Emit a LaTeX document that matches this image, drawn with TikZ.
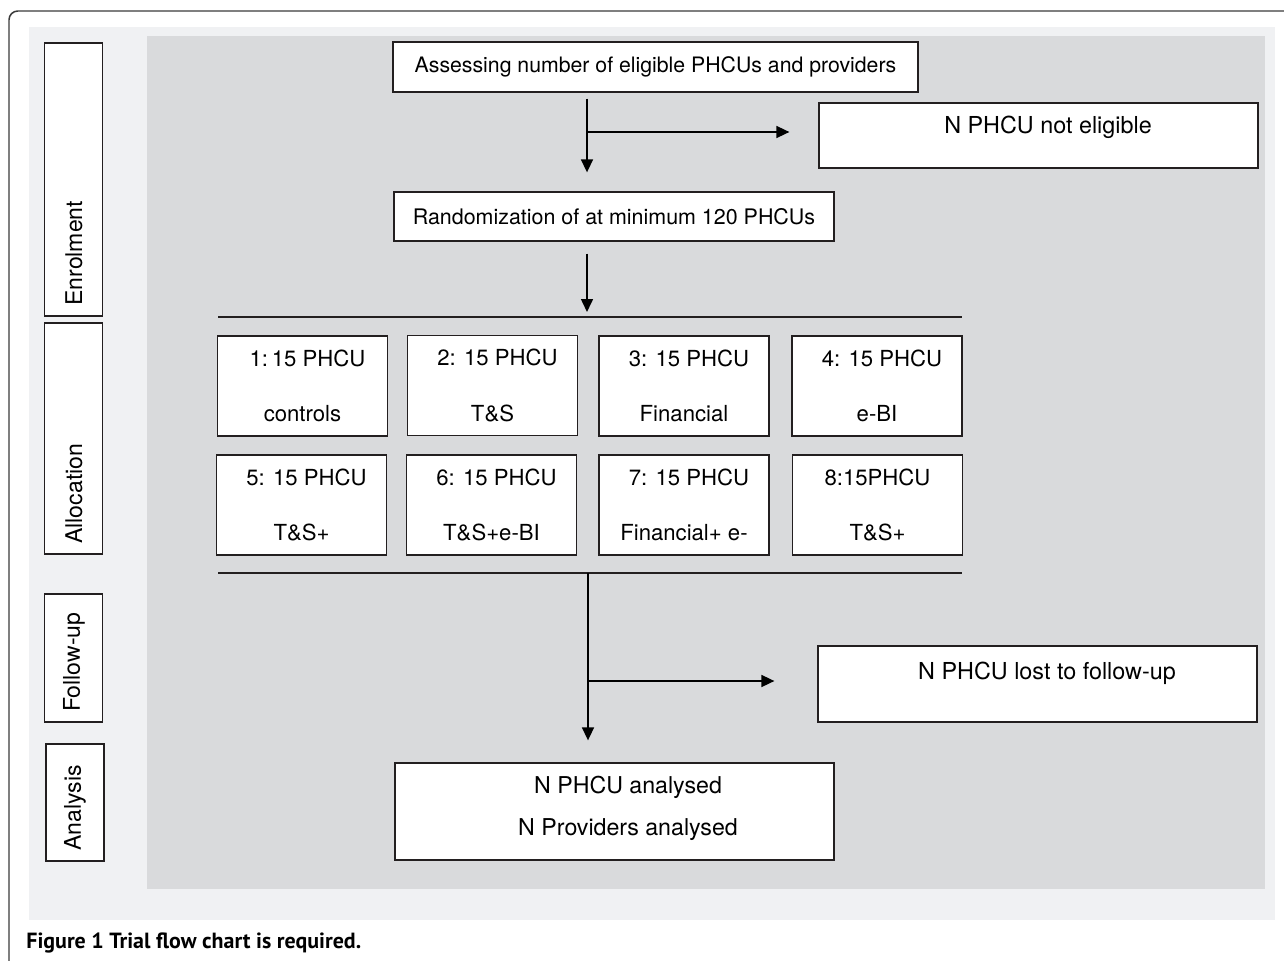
\documentclass[tikz,border=0pt]{standalone}
\usepackage{fontspec}
\setmainfont{TeX Gyre Heros}
\newfontfamily\captionfont{PT Sans}
\definecolor{panelgray}{HTML}{F0F1F3}
\definecolor{flowgray}{HTML}{D9DADC}
\definecolor{inkline}{HTML}{231F20}
\definecolor{framegray}{HTML}{3A3A3A}
\usetikzlibrary{arrows.meta}

\begin{document}
\begin{tikzpicture}[x=0.02cm, y=-0.02cm,
		box/.style={draw=inkline, fill=white, line width=0.75pt, inner sep=0pt, font=\fontsize{12.1}{14.4}\selectfont},
		armbox/.style={box, minimum width=3.4cm, minimum height=2cm, align=center, font=\fontsize{12.6}{31.7}\selectfont},
		sidebox/.style={box, minimum width=1.16cm},
		sidetext/.style={rotate=90, anchor=west, inner sep=0pt, font=\fontsize{13.1}{15}\selectfont},
		txt/.style={inner sep=0pt, align=center, font=\fontsize{13.3}{16}\selectfont},
		arrow/.style={-{Triangle[length=7.4pt, width=6.8pt]}, line width=1pt, draw=black},
		bar/.style={line width=0.75pt, draw=inkline}
	]
	\useasboundingbox (0,0) rectangle (1284,960);

	% Backgrounds and frame
	\fill[panelgray] (29,27) rectangle (1275,920);
	\fill[flowgray] (147,36) rectangle (1265,889);
	\draw[framegray, line width=0.85pt, rounded corners=5pt] (1300,11) -- (9,11) -- (9,980);

	% Stage labels
	\node[sidebox, minimum height=5.46cm] (enrol) at (73.5,179.5) {};
	\node[sidebox, minimum height=4.62cm] (alloc) at (73.5,438.5) {};
	\node[sidebox, minimum height=2.56cm] (follow) at (73.5,658) {};
	\node[sidebox, minimum height=2.34cm] (analysis) at (75,802.5) {};
	\node[sidetext] (enroltext) at (74,306) {Enrolment};
	\node[sidetext] (alloctext) at (74,544) {Allocation};
	\node[sidetext] (followtext) at (74,712) {Follow-up};
	\node[sidetext] (analysistext) at (75,851) {Analysis};

	% Enrolment
	\node[box, minimum width=10.5cm, minimum height=1cm] (assess) at (655.5,67) {Assessing number of eligible PHCUs and providers};
	\node[box, minimum width=8.78cm, minimum height=1.3cm] (noelig) at (1038.5,135.5) {};
	\node[txt] (noeligtext) at (1048,127) {N PHCU not eligible};
	\node[box, minimum width=8.8cm, minimum height=0.98cm, font=\fontsize{12.2}{14.4}\selectfont] (random) at (614,216.5) {Randomization of at minimum 120 PHCUs};

	% Allocation
	\node[armbox] (arm1) at (302.5,386) {\hspace*{0.45em}1:\,15 PHCU\\controls};
	\node[armbox] (arm2) at (492.5,385.5) {\hspace*{0.45em}2: 15 PHCU\\T\&S};
	\node[armbox] (arm3) at (684,386) {\hspace*{0.45em}3: 15 PHCU\\Financial};
	\node[armbox] (arm4) at (877,386) {\hspace*{0.45em}4: 15 PHCU\\e-BI};
	\node[armbox] (arm5) at (301.5,505) {\hspace*{0.45em}5: 15 PHCU\\T\&S+};
	\node[armbox] (arm6) at (491.5,505) {\hspace*{0.45em}6: 15 PHCU\\T\&S+e-BI};
	\node[armbox] (arm7) at (684,505) {\hspace*{0.45em}7: 15 PHCU\\Financial+ e-};
	\node[armbox] (arm8) at (877.5,505) {8:15PHCU\\T\&S+};

	% Follow-up and analysis
	\node[box, minimum width=8.78cm, minimum height=1.52cm] (lost) at (1037.5,684) {};
	\node[txt] (losttext) at (1047,673) {N PHCU lost to follow-up};
	\node[box, minimum width=8.78cm, minimum height=1.94cm] (analysed) at (614.5,811.5) {};
	\node[txt, font=\fontsize{13.2}{23.8}\selectfont] (analysedtext) at (628,808) {N PHCU analysed\\N Providers analysed};

	\coordinate (split1) at (587,132);
	\coordinate (bartopL) at (218,317);
	\coordinate (bartopR) at (962,317);
	\coordinate (barbotL) at (218,573);
	\coordinate (barbotR) at (962,573);
	\coordinate (split2) at (588,681);

	\draw[bar] (bartopL) -- (bartopR);
	\draw[bar] (barbotL) -- (barbotR);
	\draw[arrow, shorten <=0.12cm, shorten >=0.38cm] (assess.south -| split1) -- (random.north -| split1);
	\draw[arrow, shorten >=0.58cm] (split1) -- (split1 -| noelig.west);
	\draw[arrow, shorten <=0.24cm, shorten >=0.1cm] (random.south -| split1) -- (bartopL -| split1);
	\draw[arrow, shorten >=0.44cm] (barbotL -| split2) -- (analysed.north -| split2);
	\draw[arrow, shorten >=0.86cm] (split2) -- (split2 -| lost.west);

	% Caption
	\node[anchor=base west, inner sep=0pt, font=\captionfont\bfseries\fontsize{12.5}{15}\selectfont] (caption) at (26,948) {Figure 1 Trial flow chart is required.};
\end{tikzpicture}
\end{document}
